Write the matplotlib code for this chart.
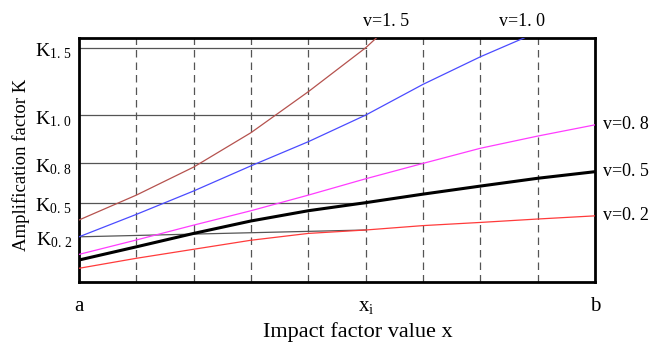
import numpy as np
import matplotlib
matplotlib.use("Agg")
import matplotlib.pyplot as plt
import matplotlib.transforms as mtransforms

plt.rcParams['font.family'] = ['Liberation Serif', 'DejaVu Serif']
plt.rcParams['mathtext.fontset'] = 'custom'
plt.rcParams['mathtext.rm'] = 'Liberation Serif'
plt.rcParams['mathtext.it'] = 'Liberation Serif'

# Curves (x in grid steps, K in % of axis height)
x_grid = [0, 1, 2, 3, 4, 5, 6, 7, 8, 9]

x_v15 = [0, 1, 2, 3, 4, 5, 5.19]
k_v15 = [25.3, 35.5, 47.0, 61.1, 77.9, 95.9, 100.0]

x_v10 = [0, 1, 2, 3, 4, 5, 6, 7, 7.77]
k_v10 = [18.4, 27.6, 37.2, 47.5, 57.4, 68.3, 80.9, 92.2, 100.0]

k_v08 = [11.2, 17.1, 23.2, 29.1, 35.5, 42.2, 48.5, 54.7, 59.7, 64.3]
k_v05 = [8.9, 14.3, 19.8, 24.9, 29.1, 32.4, 35.9, 39.2, 42.4, 45.1]
k_v02 = [5.5, 9.6, 13.3, 17.0, 19.8, 21.2, 23.0, 24.3, 25.7, 27.0]

# K reference levels and where their guide lines stop
k_labels = ['1. 5', '1. 0', '0. 8', '0. 5', '0. 2']
k_levels = [95.9, 68.3, 48.5, 32.4, 18.4]
k_stop_x = [5, 5, 6, 5, 5]
k_stop_y = [95.9, 68.3, 48.5, 32.4, 21.2]

x_tick_pos = [0, 5, 9]
x_tick_txt = ['a', r'$\mathrm{x}_{\mathrm{i}}$', 'b']
dash_x = [1, 2, 3, 4, 5, 6, 7, 8]

fig = plt.figure(figsize=(6.54, 3.49), dpi=100)
ax = fig.add_axes([0.1208, 0.1928, 0.789, 0.699])

# dashed vertical grid
for xv in dash_x:
    ax.axvline(xv, color='#555555', lw=0.9, ls=(0, (6, 4)), zorder=1)

# horizontal K guide lines
for y0, xs, ys in zip(k_levels, k_stop_x, k_stop_y):
    ax.plot([0, xs], [y0, ys], color='#555555', lw=0.9, zorder=2)

ax.plot(x_v15, k_v15, color='#B5524E', lw=0.9, zorder=3)
ax.plot(x_v10, k_v10, color='#4B4BFF', lw=0.9, zorder=3)
ax.plot(x_grid, k_v08, color='#FF3CFF', lw=0.9, zorder=3)
ax.plot(x_grid, k_v05, color='black', lw=2.2, zorder=4)
ax.plot(x_grid, k_v02, color='#FF3B3B', lw=0.9, zorder=3)

ax.set_xlim(0, 9)
ax.set_ylim(0, 100)

# curve labels
ax.text(x_v15[-1] + 0.17, 103, 'v=1. 5', ha='center', va='bottom', fontsize=13)
ax.text(x_v10[-1] - 0.04, 103, 'v=1. 0', ha='center', va='bottom', fontsize=13)
for lab, ser in zip(['v=0. 8', 'v=0. 5', 'v=0. 2'], [k_v08, k_v05, k_v02]):
    ax.text(9.14, ser[-1], lab, ha='left', va='center', fontsize=13)

ax.set_yticks(k_levels)
ax.set_yticklabels([r'$\mathrm{K}_{\mathrm{%s}}$' % s.replace(' ', r'\,') for s in k_labels],
                   fontsize=14)
ax.tick_params(axis='y', length=0, pad=5)
shift = mtransforms.ScaledTranslation(0, -1 / 72, fig.dpi_scale_trans)
for lbl in ax.get_yticklabels():
    lbl.set_transform(lbl.get_transform() + shift)

ax.set_xticks(x_tick_pos)
ax.set_xticklabels(x_tick_txt, fontsize=15)
ax.tick_params(axis='x', length=0, pad=11)

ax.set_xlabel('Impact factor value x', fontsize=16)
ax.xaxis.set_label_coords(0.54, -0.165)
ax.set_ylabel('Amplification factor K', fontsize=13.5)
ax.yaxis.set_label_coords(-0.095, 0.48)

for side in ['left', 'right', 'top', 'bottom']:
    ax.spines[side].set_linewidth(2.0)
    ax.spines[side].set_color('black')

fig.savefig('out.png', dpi=100)
